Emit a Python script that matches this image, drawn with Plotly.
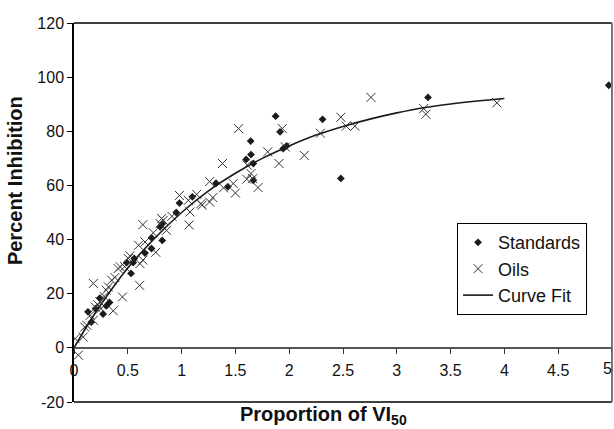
import plotly.graph_objects as go

# ---- data ----
std_x = [0.13, 0.16, 0.20, 0.24, 0.27, 0.30, 0.33, 0.49, 0.53, 0.55, 0.56, 0.66, 0.72, 0.72,
         0.82, 0.80, 0.82, 0.95, 0.98, 1.10, 1.32, 1.43, 1.60, 1.645, 1.642, 1.667, 1.667,
         1.874, 1.915, 1.945, 1.976, 2.31, 2.48, 3.29, 4.97]
std_y = [13.3, 9.5, 14.5, 18.4, 12.5, 15.5, 16.8, 31.5, 27.5, 31.5, 33.0, 35.0, 36.7, 40.7,
         39.7, 44.7, 45.8, 50.0, 53.5, 55.8, 60.8, 59.5, 69.6, 71.4, 76.4, 68.1, 61.9,
         85.6, 79.8, 73.6, 74.6, 84.4, 62.6, 92.5, 97.0]

oil_x = [0.04, 0.01, 0.086, 0.10, 0.12, 0.15, 0.18, 0.18, 0.20, 0.22, 0.24, 0.25, 0.28, 0.30,
         0.32, 0.35, 0.365, 0.38, 0.41, 0.43, 0.45, 0.47, 0.505, 0.52, 0.60, 0.61, 0.613,
         0.64, 0.64, 0.66, 0.737, 0.76, 0.80, 0.815, 0.83, 0.86, 0.91, 0.98, 1.063, 1.07,
         1.078, 1.14, 1.18, 1.19, 1.26, 1.26, 1.29, 1.38, 1.39, 1.48, 1.50, 1.53, 1.605,
         1.61, 1.645, 1.66, 1.71, 1.80, 1.905, 1.936, 1.964, 2.14, 2.29, 2.48, 2.53, 2.61,
         2.76, 3.25, 3.27, 3.93]
oil_y = [-2.7, 3.4, 4.0, 7.7, 8.3, 12.0, 10.2, 23.8, 15.0, 16.0, 17.0, 14.5, 19.0, 21.3,
         22.5, 25.0, 13.7, 26.0, 29.3, 29.9, 18.8, 30.0, 33.0, 34.0, 37.9, 23.1, 31.1,
         32.4, 45.5, 39.1, 42.5, 35.3, 45.9, 47.8, 47.1, 43.4, 48.6, 56.3, 54.5, 45.4,
         50.2, 56.7, 53.3, 52.7, 53.9, 61.4, 55.5, 68.1, 59.1, 60.7, 57.2, 81.0, 62.3,
         67.5, 64.4, 62.5, 59.2, 72.4, 68.1, 81.0, 74.2, 71.1, 79.3, 85.2, 81.9, 81.9,
         92.5, 88.4, 86.3, 90.5]

fit_x = [0, 0.1, 0.25, 0.5, 0.75, 1.0, 1.25, 1.5, 1.75, 2.0, 2.25, 2.5, 2.75, 3.0,
         3.25, 3.5, 3.75, 4.0]
fit_y = [0, 6.7, 16.0, 29.5, 40.5, 50.0, 58.0, 64.5, 70.0, 74.6, 78.6, 81.8, 84.5, 86.8,
         88.7, 90.1, 91.2, 92.1]

x_ticks = [0, 0.5, 1, 1.5, 2, 2.5, 3, 3.5, 4, 4.5]
x_ticktext = ["0", "0.5", "1", "1.5", "2", "2.5", "3", "3.5", "4", "4.5"]
x_last_tick = 5
y_ticks = [-20, 0, 20, 40, 60, 80, 100, 120]
y_ticktext = ["-20", "0", "20", "40", "60", "80", "100", "120"]

FONT = "Liberation Sans, Arial, sans-serif"
TICK_SIZE = 16
ZERO_POS = 20 / 140  # paper position of y = 0

fig = go.Figure()
fig.add_trace(go.Scatter(x=std_x, y=std_y, mode="markers", name="Standards",
                         marker=dict(symbol="diamond", size=6, color="#1a1a1a")))
fig.add_trace(go.Scatter(x=oil_x, y=oil_y, mode="markers", name="Oils",
                         marker=dict(symbol="x-thin-open", size=9,
                                     line=dict(color="#333333", width=1), color="#333333")))
fig.add_trace(go.Scatter(x=fit_x, y=fit_y, mode="lines", name="Curve Fit",
                         line=dict(color="#1a1a1a", width=1.6, shape="spline")))

fig.update_layout(
    width=614, height=429,
    margin=dict(l=74, r=2, t=23, b=27),
    paper_bgcolor="white", plot_bgcolor="white",
    font=dict(family=FONT, size=TICK_SIZE, color="#111111"),
    showlegend=True,
    legend=dict(x=0.712, y=0.472, xanchor="left", yanchor="top",
                bgcolor="white", bordercolor="black", borderwidth=1,
                itemwidth=30,
                font=dict(size=18, family=FONT), tracegroupgap=0),
    xaxis=dict(range=[0, 5], tickvals=x_ticks, ticktext=x_ticktext,
               showgrid=False, zeroline=False,
               showline=True, linecolor="#555555", linewidth=1.5,
               ticks="outside", ticklen=5, tickcolor="#333333",
               anchor="free", position=ZERO_POS, ticklabelstandoff=3,
               tickfont=dict(size=TICK_SIZE, family=FONT)),
    yaxis=dict(range=[-20, 120], tickvals=y_ticks, ticktext=y_ticktext,
               showgrid=False, zeroline=False, showline=True,
               linecolor="black", linewidth=1.5, ticks="outside", ticklen=5,
               tickcolor="black", tickfont=dict(size=TICK_SIZE, family=FONT)),
    shapes=[
        dict(type="line", xref="paper", yref="paper", x0=0, x1=1, y0=1, y1=1,
             line=dict(color="black", width=1.5)),
        dict(type="line", xref="paper", yref="paper", x0=0, x1=1, y0=0, y1=0,
             line=dict(color="black", width=1.5)),
        dict(type="line", xref="paper", yref="paper", x0=1, x1=1, y0=0, y1=1,
             line=dict(color="#777777", width=2)),
        dict(type="line", xref="x", yref="paper", x0=x_last_tick, x1=x_last_tick,
             y0=ZERO_POS, y1=ZERO_POS - 5 / 379, line=dict(color="#333333", width=1)),
    ],
    annotations=[
        dict(text=str(x_last_tick), xref="paper", yref="paper", x=1 + 2 / 538,
             y=ZERO_POS - 10 / 379, xanchor="right", yanchor="top", showarrow=False,
             font=dict(size=TICK_SIZE, family=FONT)),
        dict(text="<b>Proportion of VI<sub>50</sub></b>", xref="paper", yref="paper",
             x=0.463, y=-0.036, xanchor="center", yanchor="middle", showarrow=False,
             font=dict(size=20, family=FONT)),
        dict(text="<b>Percent Inhibition</b>", xref="paper", yref="paper",
             x=-0.11, y=0.585, xanchor="center", yanchor="middle", textangle=-90,
             showarrow=False, font=dict(size=20, family=FONT)),
    ],
)

fig.write_html("out.html")
